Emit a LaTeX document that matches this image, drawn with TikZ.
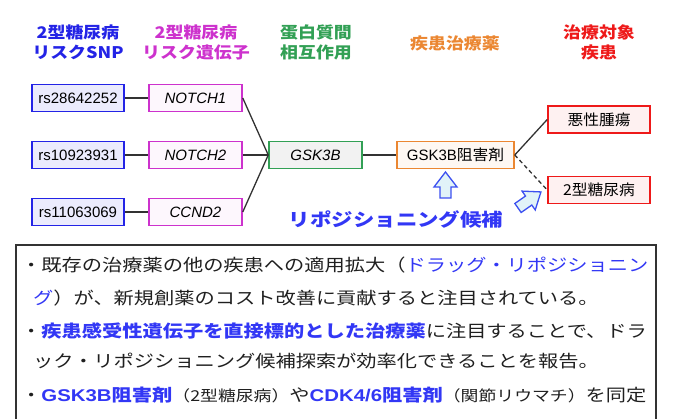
\documentclass[tikz,border=0pt]{standalone}
\usepackage{fontspec}
\setmainfont{Liberation Sans}
\newfontfamily\latwide[FakeStretch=1.2]{Liberation Sans}
\newfontfamily\jpbox[FakeStretch=1.05]{Noto Sans CJK JP}
\newfontfamily\jphead[FakeStretch=1.12]{Noto Sans CJK JP}
\newfontfamily\jpwide[FakeStretch=1.19]{Noto Sans CJK JP}
\definecolor{snpblue}{RGB}{35,35,230}
\definecolor{genemag}{RGB}{205,50,205}
\definecolor{ppigreen}{RGB}{50,160,85}
\definecolor{drugorange}{RGB}{235,135,50}
\definecolor{disred}{RGB}{238,25,25}
\definecolor{noteblue}{RGB}{50,55,245}
\definecolor{linegray}{RGB}{50,50,50}
\definecolor{arrowblue}{RGB}{60,80,240}
\definecolor{arrowfill}{RGB}{225,243,248}

\begin{document}
\begin{tikzpicture}[x=1pt, y=-1pt,
    box/.style={draw, line width=1.5pt, minimum height=27pt, inner sep=0pt, text=black,
                font=\fontsize{15}{18}\selectfont},
    snp/.style={box, draw=snpblue, fill=snpblue!9, minimum width=92pt},
    gene/.style={box, draw=genemag, fill=genemag!4, minimum width=93pt, font=\fontsize{15}{18}\selectfont\itshape},
    ppi/.style={box, draw=ppigreen, fill=ppigreen!7!gray!10, minimum width=93pt, font=\fontsize{15}{18}\selectfont\itshape},
    drug/.style={box, draw=drugorange, fill=drugorange!6, minimum width=117pt},
    disease/.style={box, draw=disred, fill=disred!6, minimum width=102pt},
    head/.style={align=center, font=\jphead\bfseries\fontsize{16}{20}\selectfont},
    link/.style={draw=linegray, line width=1.3pt},
    blockarrow/.style={draw=arrowblue, fill=arrowfill, line width=1.3pt, line join=miter},
    note/.style={anchor=base west, inner sep=0pt, text=black!88, font=\jpwide\fontsize{17}{20}\selectfont}]
\useasboundingbox (0,0) rectangle (675,419);
\clip (0,0) rectangle (675,419);
\node[head, text=snpblue] (h1) at (78,42) {2型糖尿病\\リスクSNP};
\node[head, text=genemag] (h2) at (196,42) {2型糖尿病\\リスク遺伝子};
\node[head, text=ppigreen] (h3) at (316,42) {蛋白質間\\相互作用};
\node[head, text=drugorange] (h4) at (455,43) {疾患治療薬};
\node[head, text=disred] (h5) at (599,42) {治療対象\\疾患};
\node[snp] (s1) at (78,98) {rs28642252};
\node[snp] (s2) at (78,155) {rs10923931};
\node[snp] (s3) at (78,212) {rs11063069};
\node[gene] (g1) at (195.5,98) {NOTCH1};
\node[gene] (g2) at (195.5,155) {NOTCH2};
\node[gene] (g3) at (195.5,212) {CCND2};
\node[ppi] (p) at (315.5,155) {GSK3B};
\node[drug] (d) at (455.5,155) {GSK3B{\jpbox 阻害剤}};
\node[disease] (c1) at (599,119.5) {\jpbox 悪性腫瘍};
\node[disease] (c2) at (599,190) {\jpbox 2型糖尿病};
\draw[link] (s1) -- (g1);
\draw[link] (s2) -- (g2);
\draw[link] (s3) -- (g3);
\draw[link] (g1.east) -- (p.west);
\draw[link] (g2.east) -- (p.west);
\draw[link] (g3.east) -- (p.west);
\draw[link] (p) -- (d);
\draw[link] (d.east) -- (c1.west);
\draw[link, dash pattern=on 4pt off 3pt] (d.east) -- (c2.west);
\draw[blockarrow, shift={(445.5,198)}, rotate=90] (0,-5.5) -- (11,-5.5) -- (11,-11.5) -- (26,0) -- (11,11.5) -- (11,5.5) -- (0,5.5) -- cycle;
\draw[blockarrow, shift={(518,208)}, rotate=35] (0,-5.5) -- (13,-5.5) -- (13,-11.5) -- (28,0) -- (13,11.5) -- (13,5.5) -- (0,5.5) -- cycle;
\node[font=\jpwide\bfseries\fontsize{18}{20}\selectfont, text=noteblue] (cand) at (396,220) {リポジショニング候補};
\node[draw=black!80, line width=1.5pt, minimum width=640pt, minimum height=200pt, inner sep=0pt] (box) at (336,345) {};
\node[note] (t1) at (21,272) {・既存の治療薬の他の疾患への適用拡大（{\color{noteblue}ドラッグ・リポジショニン}};
\node[note] (t2) at (33,305) {{\color{noteblue}グ}）が、新規創薬のコスト改善に貢献すると注目されている。};
\node[note] (t3) at (21,338) {・{\color{noteblue}\bfseries 疾患感受性遺伝子を直接標的とした治療薬}に注目することで、ドラ};
\node[note] (t4) at (33,368) {ック・リポジショニング候補探索が効率化できることを報告。};
\node[note] (t5) at (21,402) {・{\color{noteblue}\bfseries{\latwide GSK3B}阻害剤}{\fontsize{15}{16}\selectfont（2型糖尿病）}や{\color{noteblue}\bfseries{\latwide CDK4/6}阻害剤}{\fontsize{15}{16}\selectfont（関節リウマチ）}を同定};
\end{tikzpicture}
\end{document}
